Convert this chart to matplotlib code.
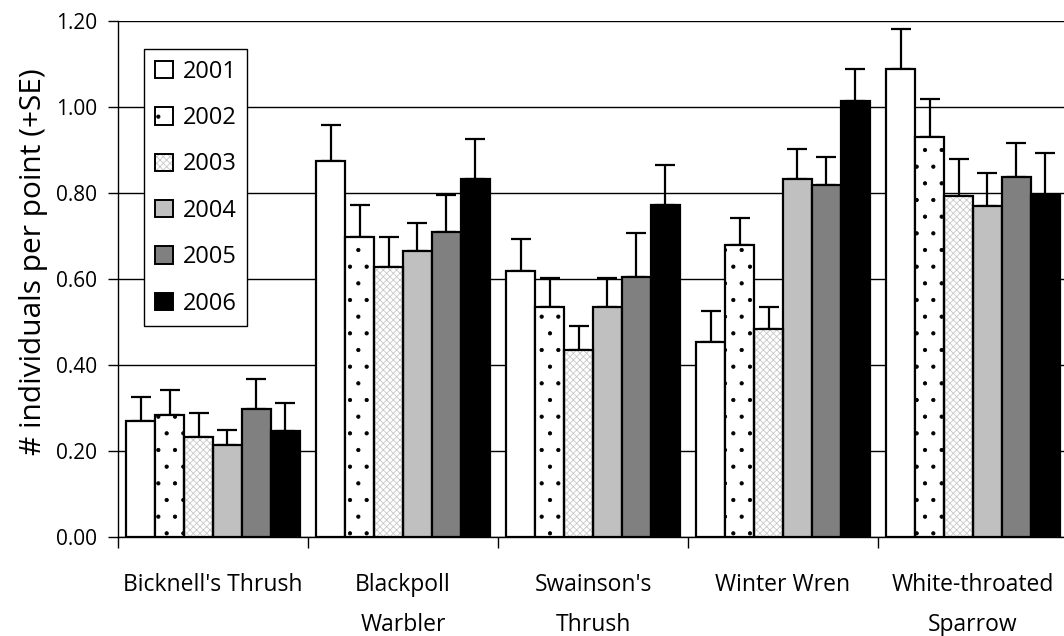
"""
Point-count abundance by species and year (2001-2006), mean +SE.
"""

import matplotlib
matplotlib.use("Agg")
import matplotlib.pyplot as plt
import numpy as np
from matplotlib.patches import Patch
from matplotlib.legend_handler import HandlerTuple

# ── Data ──────────────────────────────────────────────────────────────────────

SPECIES = ["Bicknell's Thrush", "Blackpoll\nWarbler", "Swainson's\nThrush",
           "Winter Wren", "White-throated\nSparrow"]
YEARS = ["2001", "2002", "2003", "2004", "2005", "2006"]

# mean individuals per point, one list per year (species order as above)
MEAN_2001 = [0.270, 0.874, 0.619, 0.454, 1.088]
MEAN_2002 = [0.284, 0.697, 0.534, 0.679, 0.930]
MEAN_2003 = [0.232, 0.628, 0.435, 0.484, 0.794]
MEAN_2004 = [0.213, 0.664, 0.534, 0.832, 0.770]
MEAN_2005 = [0.298, 0.710, 0.604, 0.818, 0.837]
MEAN_2006 = [0.247, 0.833, 0.772, 1.014, 0.796]

# standard errors
SE_2001 = [0.056, 0.083, 0.073, 0.071, 0.093]
SE_2002 = [0.059, 0.074, 0.069, 0.064, 0.088]
SE_2003 = [0.056, 0.069, 0.056, 0.050, 0.084]
SE_2004 = [0.037, 0.066, 0.069, 0.070, 0.076]
SE_2005 = [0.069, 0.085, 0.102, 0.065, 0.079]
SE_2006 = [0.064, 0.092, 0.092, 0.074, 0.096]

MEANS = [MEAN_2001, MEAN_2002, MEAN_2003, MEAN_2004, MEAN_2005, MEAN_2006]
ERRS = [SE_2001, SE_2002, SE_2003, SE_2004, SE_2005, SE_2006]

# fill, hatch, hatch colour per year
STYLES = [
    ("white", "", None),
    ("white", ".", "black"),
    ("white", "xxxxx", "#c8c8c8"),
    ("#c0c0c0", "", None),
    ("#808080", "", None),
    ("black", "", None),
]

FONT = ["Open Sans", "DejaVu Sans"]
W, H = 1064, 636


def plot_abundance():
    plt.rcParams["font.family"] = FONT
    plt.rcParams["hatch.linewidth"] = 0.6

    fig = plt.figure(figsize=(W / 100, H / 100), dpi=100)
    ax = fig.add_axes([118 / W, 1 - 537 / H, 950 / W, 516 / H])

    x = np.arange(len(SPECIES))
    width = 0.152
    offsets = (np.arange(len(YEARS)) - 2.5) * width

    for i, (means, errs) in enumerate(zip(MEANS, ERRS)):
        fill, hatch, hcol = STYLES[i]
        pos = x + offsets[i]
        if hatch:
            # hatch layer first, then a plain outline on top
            ax.bar(pos, means, width, color=fill, hatch=hatch, edgecolor=hcol,
                   linewidth=0, zorder=3)
            ax.bar(pos, means, width, fill=False, edgecolor="black",
                   linewidth=1.6, zorder=4)
        else:
            ax.bar(pos, means, width, color=fill, edgecolor="black",
                   linewidth=1.6, zorder=3)
        ax.errorbar(pos, means, yerr=[np.zeros(len(errs)), errs], fmt="none",
                    ecolor="black", elinewidth=1.6, capsize=7, capthick=1.6,
                    zorder=2)

    ax.set_xlim(-0.5, len(SPECIES) - 0.5)
    ax.set_ylim(0, 1.2)
    yt = np.arange(0, 1.21, 0.2)
    ax.set_yticks(yt)
    ax.set_yticklabels([f"{v:.2f}" for v in yt], fontsize=15)
    ax.yaxis.grid(True, color="black", linewidth=1.0, zorder=0)
    ax.set_axisbelow(True)

    ax.set_xticks(x)
    ax.set_xticklabels(SPECIES, fontsize=16.5, linespacing=1.87, va="top")
    ax.tick_params(axis="x", length=0, pad=26)
    ax.set_xticks(np.arange(-0.5, len(SPECIES)), minor=True)
    ax.tick_params(axis="x", which="minor", length=8, width=1, direction="out")
    ax.tick_params(axis="y", length=7, width=1, direction="out", pad=8)

    for side in ("top", "right"):
        ax.spines[side].set_visible(False)
    ax.spines["left"].set_linewidth(1)
    ax.spines["bottom"].set_linewidth(1)

    fig.text(34 / W, 1 - 262 / H, "# individuals per point (+SE)", fontsize=21.5,
             rotation=90, ha="center", va="center")

    handles = []
    for fill, hatch, hcol in STYLES:
        if hatch:
            handles.append((Patch(facecolor=fill, hatch=hatch, edgecolor=hcol,
                                  linewidth=0),
                            Patch(fill=False, edgecolor="black", linewidth=1.4)))
        else:
            handles.append(Patch(facecolor=fill, edgecolor="black", linewidth=1.4))
    leg = ax.legend(handles, YEARS, loc="upper left",
                    bbox_to_anchor=(144 / W, 1 - 49 / H),
                    bbox_transform=fig.transFigure, fontsize=17,
                    handler_map={tuple: HandlerTuple(ndivide=1, pad=0)},
                    handlelength=0.76, handleheight=0.76, handletextpad=0.42,
                    labelspacing=0.95, borderpad=0.45, borderaxespad=0,
                    fancybox=False, framealpha=1, edgecolor="black")
    leg.get_frame().set_linewidth(1.0)
    leg.set_zorder(5)

    fig.savefig("out.png", dpi=100)
    plt.close(fig)


if __name__ == "__main__":
    plot_abundance()
